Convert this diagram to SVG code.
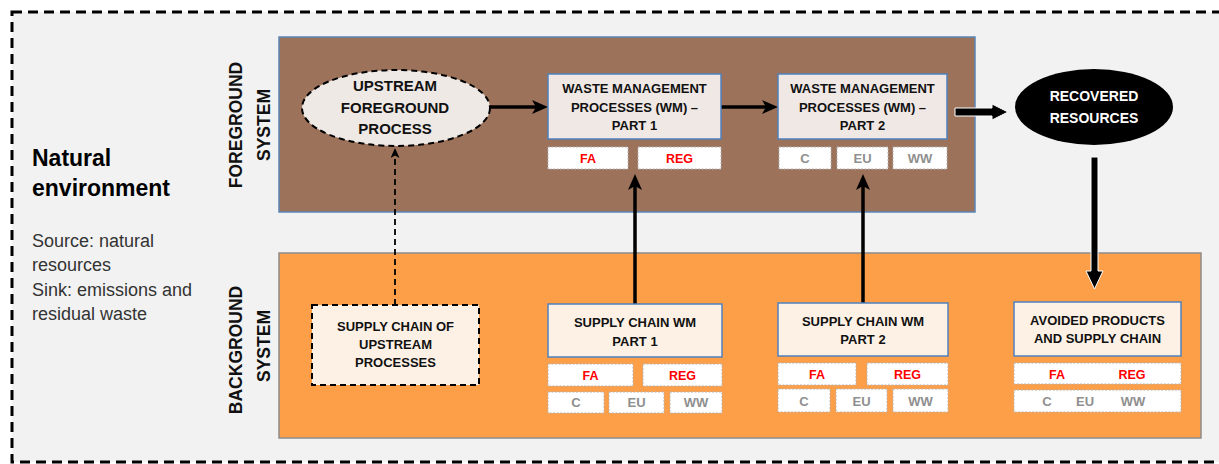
<svg xmlns="http://www.w3.org/2000/svg" width="1219" height="464" viewBox="0 0 1219 464">
<defs>
<style>
.t{font-family:"Liberation Sans",Arial,sans-serif;font-weight:bold;fill:#111;text-anchor:middle}
.n{font-size:13px}
.e{font-size:15px}
.r{font-size:12.5px;fill:#ff0000}
.g{font-size:13px;fill:#8f8f8f}
.sys{font-size:17.5px}
.sm{fill:#ffffff;stroke:#b4b4b4;stroke-width:1;stroke-dasharray:2 1.5}
.wm{fill:#f0e8e5;stroke:#4f81bd;stroke-width:1.5}
.sc{fill:#fdf1e6;stroke:#4f81bd;stroke-width:1.5}
.ln{stroke:#000;stroke-width:3.5;fill:none}
.blk{fill:#000;stroke:#ffffff;stroke-width:1}
</style>
<marker id="ah" viewBox="0 0 16 14" refX="4" refY="7" markerWidth="16" markerHeight="14" markerUnits="userSpaceOnUse" orient="auto">
<path d="M0,0 L16,7 L0,14 L4,7 z" fill="#000"/>
</marker>
<marker id="ahs" viewBox="0 0 10 9" refX="2.5" refY="4.5" markerWidth="10" markerHeight="9" markerUnits="userSpaceOnUse" orient="auto">
<path d="M0,0 L10,4.5 L0,9 L2.5,4.5 z" fill="#000"/>
</marker>
</defs>
<rect x="0" y="0" width="1219" height="464" fill="#ffffff"/>
<g id="natural-environment">
<rect x="12" y="12" width="1240" height="450" fill="#f2f2f2" stroke="#000" stroke-width="3" stroke-dasharray="10 6"/>
<text font-family="Liberation Sans,Arial,sans-serif" font-weight="bold" font-size="23" fill="#000"><tspan x="32" y="166">Natural</tspan><tspan x="32" y="196">environment</tspan></text>
<text font-family="Liberation Sans,Arial,sans-serif" font-size="18" fill="#333"><tspan x="32" y="247">Source: natural</tspan><tspan x="32" y="271">resources</tspan><tspan x="32" y="296">Sink: emissions and</tspan><tspan x="32" y="320">residual waste</tspan></text>
</g>
<g id="foreground-system">
<rect x="279" y="37" width="696" height="175" fill="#9c725a" stroke="#5b86b8" stroke-width="1.5"/>
<text class="t sys" transform="translate(242,125) rotate(-90)">FOREGROUND</text>
<text class="t sys" transform="translate(270,125) rotate(-90)">SYSTEM</text>
</g>
<g id="background-system">
<rect x="279" y="253" width="922" height="185" fill="#fd9f48" stroke="#8c8c8c" stroke-width="1.5"/>
<text class="t sys" transform="translate(242,350) rotate(-90)">BACKGROUND</text>
<text class="t sys" transform="translate(270,346) rotate(-90)">SYSTEM</text>
</g>
<g id="connectors">
<line class="ln" x1="490" y1="107" x2="536" y2="107" marker-end="url(#ah)"/>
<line class="ln" x1="721" y1="107" x2="766" y2="107" marker-end="url(#ah)"/>
<line class="ln" x1="635" y1="304" x2="635" y2="186" marker-end="url(#ah)"/>
<line class="ln" x1="863" y1="303" x2="863" y2="186" marker-end="url(#ah)"/>
<line x1="395" y1="305" x2="395" y2="155.5" stroke="#000" stroke-width="1.8" stroke-dasharray="6 4" marker-end="url(#ahs)"/>
<polygon class="blk" points="955,108 992,108 992,104 1008,112 992,120 992,116 955,116"/>
<polygon class="blk" points="1091,157 1098,157 1098,271 1103,271 1094.5,289 1086,271 1091,271"/>
</g>
<g id="upstream-foreground-process">
<ellipse cx="396" cy="108" rx="94" ry="38" fill="#efe9e5" stroke="#000" stroke-width="2" stroke-dasharray="6 4"/>
<text class="t e"><tspan x="395" y="91">UPSTREAM</tspan><tspan x="395" y="113">FOREGROUND</tspan><tspan x="395" y="134">PROCESS</tspan></text>
</g>
<g id="wm-part1">
<rect class="wm" x="548" y="74" width="173" height="65"/>
<text class="t n"><tspan x="634.5" y="93">WASTE MANAGEMENT</tspan><tspan x="634.5" y="111.5">PROCESSES (WM) –</tspan><tspan x="634.5" y="130">PART 1</tspan></text>
<rect class="sm" x="548" y="147" width="80" height="22"/>
<rect class="sm" x="638" y="147" width="83" height="22"/>
<text class="t r" x="588" y="163">FA</text>
<text class="t r" x="679.5" y="163">REG</text>
</g>
<g id="wm-part2">
<rect class="wm" x="778" y="74" width="169" height="65"/>
<text class="t n"><tspan x="862.5" y="93">WASTE MANAGEMENT</tspan><tspan x="862.5" y="111.5">PROCESSES (WM) –</tspan><tspan x="862.5" y="130">PART 2</tspan></text>
<rect class="sm" x="779" y="147" width="52" height="22"/>
<rect class="sm" x="837" y="147" width="51" height="22"/>
<rect class="sm" x="893" y="147" width="54" height="22"/>
<text class="t g" x="805" y="163">C</text>
<text class="t g" x="862.5" y="163">EU</text>
<text class="t g" x="920" y="163">WW</text>
</g>
<g id="recovered-resources">
<ellipse cx="1094" cy="107" rx="79" ry="38" fill="#000"/>
<text class="t" font-size="14" style="fill:#fff"><tspan x="1094" y="101">RECOVERED</tspan><tspan x="1094" y="123">RESOURCES</tspan></text>
</g>
<g id="supply-chain-upstream">
<rect x="312" y="305" width="167" height="80" fill="#fdf1e6" stroke="#000" stroke-width="2" stroke-dasharray="6 4"/>
<text class="t n"><tspan x="395.5" y="331">SUPPLY CHAIN OF</tspan><tspan x="395.5" y="349">UPSTREAM</tspan><tspan x="395.5" y="367">PROCESSES</tspan></text>
</g>
<g id="supply-chain-wm-part1">
<rect class="sc" x="548" y="304" width="174" height="53"/>
<text class="t n"><tspan x="635" y="327">SUPPLY CHAIN WM</tspan><tspan x="635" y="345.5">PART 1</tspan></text>
<rect class="sm" x="548" y="364" width="85" height="22"/>
<rect class="sm" x="643" y="364" width="79" height="22"/>
<text class="t r" x="590.5" y="380">FA</text>
<text class="t r" x="682.5" y="380">REG</text>
<rect class="sm" x="548" y="392" width="56" height="21"/>
<rect class="sm" x="609" y="392" width="55" height="21"/>
<rect class="sm" x="670" y="392" width="52" height="21"/>
<text class="t g" x="576" y="407">C</text>
<text class="t g" x="636.5" y="407">EU</text>
<text class="t g" x="696" y="407">WW</text>
</g>
<g id="supply-chain-wm-part2">
<rect class="sc" x="778" y="303" width="170" height="53"/>
<text class="t n"><tspan x="863" y="326">SUPPLY CHAIN WM</tspan><tspan x="863" y="344">PART 2</tspan></text>
<rect class="sm" x="778" y="363" width="78" height="22"/>
<rect class="sm" x="867" y="363" width="81" height="22"/>
<text class="t r" x="817" y="379">FA</text>
<text class="t r" x="907.5" y="379">REG</text>
<rect class="sm" x="778" y="389" width="52" height="23"/>
<rect class="sm" x="836" y="389" width="51" height="23"/>
<rect class="sm" x="893" y="389" width="55" height="23"/>
<text class="t g" x="804" y="406">C</text>
<text class="t g" x="861.5" y="406">EU</text>
<text class="t g" x="920.5" y="406">WW</text>
</g>
<g id="avoided-products">
<rect class="sc" x="1014" y="302" width="167" height="54"/>
<text class="t n"><tspan x="1097.5" y="325">AVOIDED PRODUCTS</tspan><tspan x="1097.5" y="343">AND SUPPLY CHAIN</tspan></text>
<rect class="sm" x="1014" y="363" width="167" height="21"/>
<text class="t r" x="1057" y="379">FA</text>
<text class="t r" x="1132" y="379">REG</text>
<rect class="sm" x="1014" y="390" width="167" height="22"/>
<text class="t g" x="1047" y="405.5">C</text>
<text class="t g" x="1085" y="405.5">EU</text>
<text class="t g" x="1133" y="405.5">WW</text>
</g>
</svg>
